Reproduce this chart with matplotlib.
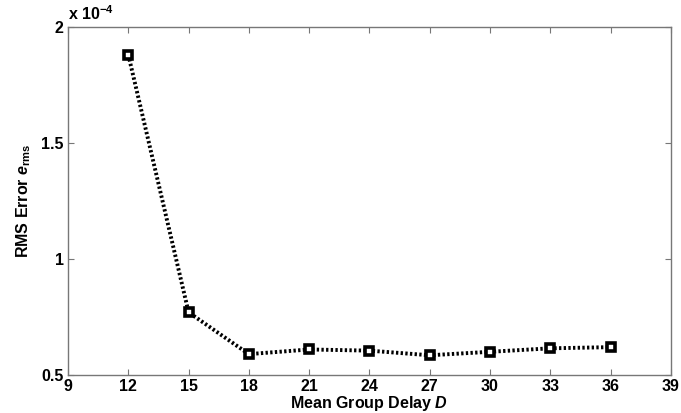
import matplotlib
matplotlib.use("Agg")
import matplotlib.pyplot as plt

plt.rcParams['font.family'] = ['Liberation Sans', 'DejaVu Sans']
plt.rcParams['mathtext.fontset'] = 'custom'
plt.rcParams['mathtext.rm'] = 'Liberation Sans:bold'
plt.rcParams['mathtext.it'] = 'Liberation Sans:bold:italic'
plt.rcParams['mathtext.bf'] = 'Liberation Sans:bold'

# Mean group delay vs RMS error (in units of 1e-4)
delay = [12, 15, 18, 21, 24, 27, 30, 33, 36]
rms_error = [1.88, 0.77, 0.59, 0.61, 0.605, 0.585, 0.60, 0.615, 0.62]
xticks = [9, 12, 15, 18, 21, 24, 27, 30, 33, 36, 39]
yticks = [0.5, 1.0, 1.5, 2.0]
ytick_labels = ['0.5', '1', '1.5', '2']

fig = plt.figure(figsize=(6.81, 4.13), dpi=100)
ax = fig.add_axes([0.0999, 0.092, 0.8851, 0.843])

ax.plot(delay, rms_error, color='black', linestyle=(0, (0.6, 0.6)), linewidth=2.8,
        marker='s', markersize=5.5, markerfacecolor='white', markeredgecolor='black',
        markeredgewidth=2.6)

ax.set_xlim(9, 39)
ax.set_ylim(0.5, 2.0)
ax.set_xticks(xticks)
ax.set_yticks(yticks)
ax.set_yticklabels(ytick_labels)
ax.tick_params(direction='in', top=True, right=True, length=4, width=0.8,
               color='#777777', labelsize=11.5, pad=3)
for lab in ax.get_xticklabels() + ax.get_yticklabels():
    lab.set_fontweight('bold')
for sp in ax.spines.values():
    sp.set_color('#777777')
    sp.set_linewidth(1.0)

ax.set_xlabel(r'Mean Group Delay $D$', fontsize=11.5, fontweight='bold', labelpad=0)
ax.set_ylabel(r'RMS Error $e_{\mathrm{rms}}$', fontsize=11.5, fontweight='bold', labelpad=6)
ax.text(0.0, 1.01, r'x 10$^{\mathrm{-4}}$', transform=ax.transAxes, fontsize=11.5,
        fontweight='bold', ha='left', va='bottom')

fig.savefig('out.png', dpi=100)
